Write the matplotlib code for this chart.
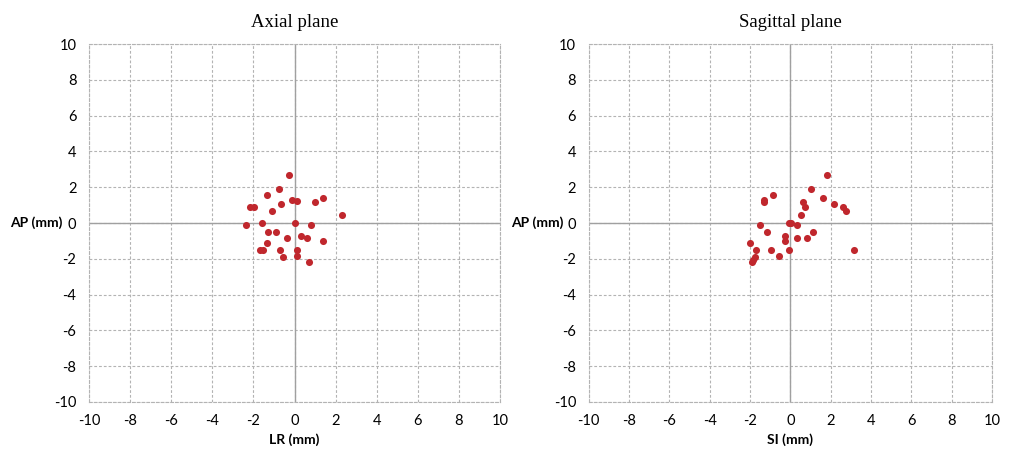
import numpy as np
import matplotlib.pyplot as plt

plt.rcParams['axes.unicode_minus'] = False

# Axial plane: LR vs AP (mm)
lr = [-0.29, -0.77, -1.36, -0.13, 0.11, -0.67, 0.99, 1.39, -2.16, -1.97,
      -1.09, 2.29, -2.35, -1.57, 0.03, 0.78, -1.28, -0.88, 0.30, 0.62,
      -0.37, 1.39, -1.36, -1.68, -1.55, -0.69, 0.11, 0.11, -0.56, 0.69]
ap_axial = [2.69, 1.89, 1.59, 1.31, 1.21, 1.06, 1.19, 1.38, 0.87, 0.87,
            0.69, 0.46, -0.10, 0.01, 0.01, -0.10, -0.52, -0.52, -0.70, -0.85,
            -0.85, -1.02, -1.12, -1.53, -1.53, -1.53, -1.53, -1.83, -1.92, -2.15]

# Sagittal plane: SI vs AP (mm)
si = [1.82, 1.02, -0.88, -1.28, -1.28, 0.65, 1.61, 0.73, 2.15, 2.63,
      2.76, 0.54, -0.08, 0.05, 0.33, -1.48, -1.15, 1.15, -0.28, -0.24,
      0.33, 0.81, -1.98, 3.14, -1.69, -0.96, -0.08, -0.57, -1.76, -1.85, -1.90]
ap_sag = [2.69, 1.89, 1.59, 1.31, 1.17, 1.19, 1.38, 0.87, 1.06, 0.87,
          0.69, 0.46, 0.01, 0.01, -0.10, -0.10, -0.52, -0.52, -0.70, -1.02,
          -0.85, -0.85, -1.12, -1.53, -1.53, -1.53, -1.53, -1.83, -1.90, -2.04, -2.17]

ticks = np.arange(-10, 11, 2)

fig = plt.figure(figsize=(10.1, 4.53), dpi=100)
ax1 = fig.add_axes([0.0881, 0.1126, 0.407, 0.790])
ax2 = fig.add_axes([0.5827, 0.1126, 0.3995, 0.790])

panels = [
    (ax1, lr, ap_axial, 'Axial plane', 'LR (mm)'),
    (ax2, si, ap_sag, 'Sagittal plane', 'SI (mm)'),
]

for ax, x, y, title, xlabel in panels:
    ax.set_xlim(-10, 10)
    ax.set_ylim(-10, 10)
    ax.set_xticks(ticks)
    ax.set_yticks(ticks)
    ax.grid(True, color='#b3b3b3', linestyle=(0, (2.5, 1.8)), linewidth=0.8)
    for sp in ax.spines.values():
        sp.set_color('#b3b3b3')
        sp.set_linestyle((0, (2.5, 1.8)))
        sp.set_linewidth(0.8)
    ax.axhline(0, color='#a0a0a0', linewidth=1.0)
    ax.axvline(0, color='#a0a0a0', linewidth=1.0)
    ax.tick_params(length=0, labelsize=10.5, pad=9)
    for lab in ax.get_xticklabels() + ax.get_yticklabels():
        lab.set_family('Lato')
    ax.scatter(x, y, s=26, color='#c0272d', zorder=3, linewidths=0)
    ax.set_title(title, family='Liberation Serif', fontsize=13.5, pad=12)
    ax.text(0.5, -0.106, xlabel, transform=ax.transAxes, ha='center', va='center',
            fontsize=10, weight='bold', family='Lato')
    ax.text(-0.128, 0.5, 'AP (mm)', transform=ax.transAxes, ha='center', va='center',
            fontsize=10, weight='bold', family='Lato')

fig.savefig('out.png', dpi=100)
